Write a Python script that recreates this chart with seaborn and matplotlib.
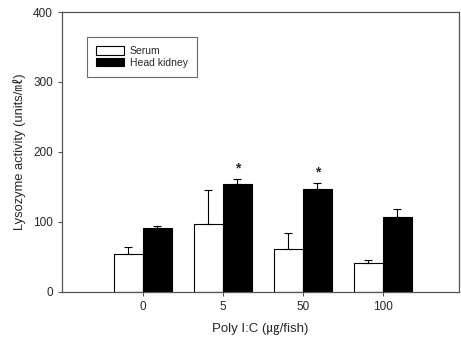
import numpy as np
import pandas as pd
import matplotlib
matplotlib.use("Agg")
import matplotlib.pyplot as plt
import seaborn as sns

# Lysozyme activity after Poly I:C injection
doses = ["0", "5", "50", "100"]
serum = [54, 97, 62, 42]
serum_err = [10, 49, 22, 4]
kidney = [91, 154, 147, 107]
kidney_err = [3, 8, 9, 11]
signif = ["", "*", "*", ""]

sns.set_style("ticks")
plt.rcParams["font.family"] = ["Liberation Sans", "Noto Sans CJK JP", "DejaVu Sans"]

df = pd.DataFrame({
    "dose": doses * 2,
    "value": serum + kidney,
    "group": ["Serum"] * 4 + ["Head kidney"] * 4,
})

fig = plt.figure(figsize=(4.61, 3.43), dpi=100)
ax = fig.add_axes([0.1345, 0.149, 0.861, 0.816])

sns.barplot(data=df, x="dose", y="value", hue="group", order=doses,
            hue_order=["Serum", "Head kidney"], palette=["white", "black"],
            width=0.72, edgecolor="black", linewidth=0.8, errorbar=None, ax=ax)

# one-sided error bars from the bar centres
bars = [p for p in ax.patches if p.get_height() > 0]
errs = serum_err + kidney_err
for p, e in zip(bars, errs):
    xc = p.get_x() + p.get_width() / 2
    h = p.get_height()
    ax.errorbar(xc, h, yerr=[[0], [e]], fmt="none", ecolor="black",
                elinewidth=0.8, capsize=3, capthick=0.8)

# significance stars above head kidney bars
for i, s in enumerate(signif):
    if s:
        p = bars[4 + i]
        ax.text(p.get_x() + p.get_width() / 2, kidney[i] + kidney_err[i] + 5, s,
                ha="center", va="bottom", fontsize=10, fontweight="bold")

ax.set_xlim(-1.01, 3.95)
ax.set_ylim(0, 400)
ax.set_yticks([0, 100, 200, 300, 400])
for s in ax.spines.values():
    s.set_color("#555555")
    s.set_linewidth(0.9)
ax.tick_params(axis="both", labelsize=8.5, color="#555555", length=3, width=0.8)

ax.set_xlabel("Poly I:C (\u338d/fish)", fontsize=9.5, labelpad=7)
ax.set_ylabel("Lysozyme activity (units/\u3396)", fontsize=9.3, labelpad=5)

leg = ax.legend(loc="upper left", bbox_to_anchor=(0.05, 0.93), fontsize=7.5,
                frameon=True, fancybox=False, handlelength=2.6, handleheight=0.9,
                borderpad=0.9, labelspacing=0.15, handletextpad=0.6)
leg.get_frame().set_edgecolor("#444444")
leg.get_frame().set_linewidth(0.8)

fig.savefig("out.png", dpi=100)
